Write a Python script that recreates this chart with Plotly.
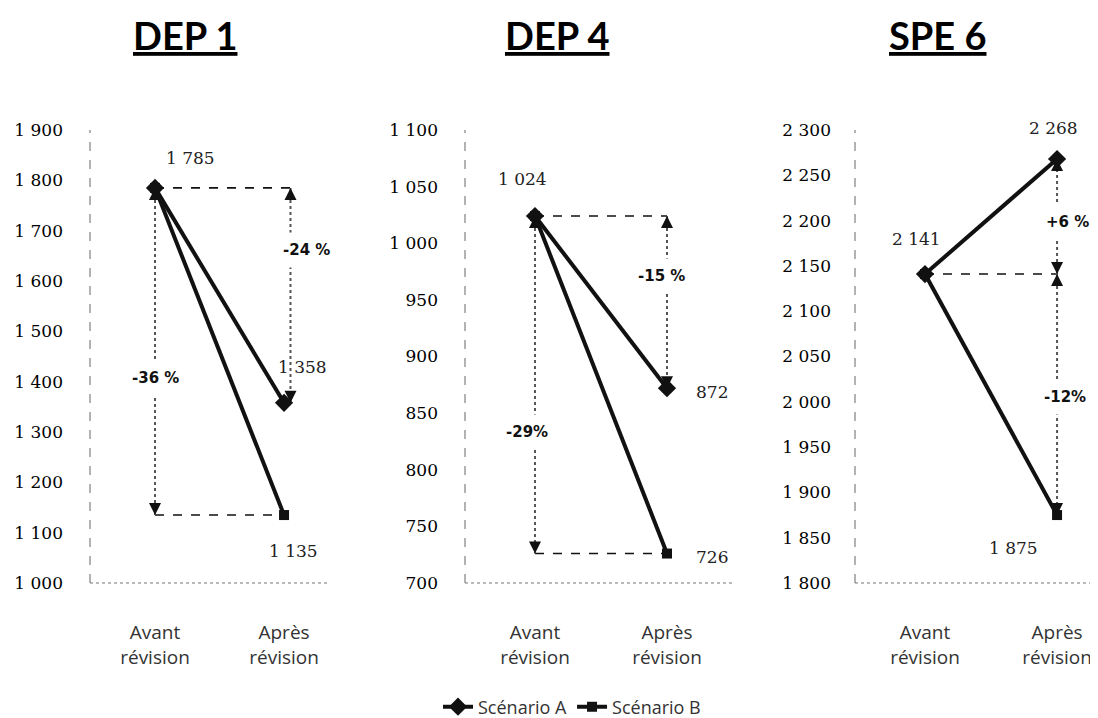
import plotly.graph_objects as go

# --- data -------------------------------------------------------------
panels = ["DEP 1", "DEP 4", "SPE 6"]
stages = ["Avant<br>révision", "Après<br>révision"]
scenario_a = [[1785, 1358], [1024, 872], [2141, 2268]]
scenario_b = [[1785, 1135], [1024, 726], [2141, 1875]]
change_a = ["-24 %", "-15 %", "+6 %"]
change_b = ["-36 %", "-29%", "-12%"]
y_min = [1000, 700, 1800]
y_max = [1900, 1100, 2300]
y_step = [100, 50, 50]

# --- layout (pixels, as seen in the page; the page body adds an 8px offset) ---
W, H = 1098, 718
OFF = 8
x_dom = [(90, 327), (465, 735), (855, 1098)]
x_rng = [(-0.504, 1.333), (-0.53, 1.515), (-0.53, 1.31)]
y_dom = (130, 583)
title_x = [185, 557, 938]
title_y = 35
legend_xy = (572, 707)
arrow_a_x = [1.05, 1.0, 1.0]
arrow_b_x = [0.0, 0.0, 1.0]
# value label offsets (xshift, yshift): start, end A, end B
lab_off = [
    [(35, 30), (18, 36), (9, -36)],
    [(-12, 37), (45, -4), (45, -3)],
    [(-8, 35), (-4, 31), (-44, -33)],
]
# percent labels: fraction along the arrow, xshift
pct_a_pos = [(0.29, 16), (0.35, -6), (0.45, 10)]
pct_b_pos = [(0.58, 0), (0.64, -8), (0.51, 8)]

SERIF = "DejaVu Serif"
SANS = "Open Sans"


def px_x(p):
    return (p - OFF) / W


def px_y(p):
    return 1 - (p - OFF) / H


def fmt(v):
    return f"{v:,}".replace(",", " ")


def heads(y0, y1):
    return ["arrow-up", "arrow-down"] if y0 > y1 else ["arrow-down", "arrow-up"]


fig = go.Figure()
annotations = []
shapes = []
layout_axes = {}

for i, name in enumerate(panels):
    sfx = "" if i == 0 else str(i + 1)
    xa, ya = "x" + sfx, "y" + sfx
    a, b = scenario_a[i], scenario_b[i]
    start = a[0]

    # helper dashed lines
    fig.add_trace(go.Scatter(
        x=[0, arrow_a_x[i]], y=[start, start], xaxis=xa, yaxis=ya, mode="lines",
        line=dict(color="#111", width=1.6, dash="dash"), showlegend=False, hoverinfo="skip"))
    if arrow_b_x[i] == 0:
        fig.add_trace(go.Scatter(
            x=[0, 1], y=[b[1], b[1]], xaxis=xa, yaxis=ya, mode="lines",
            line=dict(color="#111", width=1.6, dash="dash"), showlegend=False, hoverinfo="skip"))

    # change arrows
    for ax_x, ser in ((arrow_a_x[i], a), (arrow_b_x[i], b)):
        fig.add_trace(go.Scatter(
            x=[ax_x, ax_x], y=[ser[0], ser[1]], xaxis=xa, yaxis=ya, mode="lines+markers",
            line=dict(color="#555", width=2, dash="dot"),
            marker=dict(symbol=heads(ser[0], ser[1]), size=12, color="#111"),
            showlegend=False, hoverinfo="skip"))

    # data series
    fig.add_trace(go.Scatter(
        x=[0, 1], y=a, xaxis=xa, yaxis=ya, mode="lines+markers", name="Scénario A",
        line=dict(color="#111", width=4),
        marker=dict(symbol="diamond", size=14, color="#111"),
        showlegend=(i == 0), legendgroup="a"))
    fig.add_trace(go.Scatter(
        x=[0, 1], y=b, xaxis=xa, yaxis=ya, mode="lines+markers", name="Scénario B",
        line=dict(color="#111", width=4),
        marker=dict(symbol="square", size=10, color="#111"),
        showlegend=(i == 0), legendgroup="b"))

    # value labels
    for (xv, yv), (dx, dy) in zip(((0, start), (1, a[1]), (1, b[1])), lab_off[i]):
        annotations.append(dict(
            x=xv, y=yv, xref=xa, yref=ya, text=fmt(yv), showarrow=False,
            xanchor="center", yanchor="middle",
            xshift=dx, yshift=dy, font=dict(family=SERIF, size=17, color="#222")))

    # percent labels
    for ax_x, ser, txt, (frac, dx) in ((arrow_a_x[i], a, change_a[i], pct_a_pos[i]),
                                        (arrow_b_x[i], b, change_b[i], pct_b_pos[i])):
        annotations.append(dict(
            x=ax_x, y=ser[0] + frac * (ser[1] - ser[0]), xref=xa, yref=ya,
            text=f"<b>{txt}</b>", showarrow=False, xshift=dx,
            xanchor="center", yanchor="middle",
            bgcolor="white", borderpad=8,
            font=dict(family="DejaVu Sans", size=15, color="#111")))

    # panel title
    annotations.append(dict(
        x=px_x(title_x[i]), y=px_y(title_y), xref="paper", yref="paper",
        text=f"<b><u>{name}</u></b>", showarrow=False,
        xanchor="center", yanchor="middle",
        font=dict(family="Lato", size=38, color="#000")))

    # axis lines
    shapes.append(dict(type="line", xref=f"{xa} domain", yref=f"{ya} domain",
                       x0=0, x1=0, y0=0, y1=1, line=dict(color="#666", width=1, dash="dash")))
    shapes.append(dict(type="line", xref=f"{xa} domain", yref=f"{ya} domain",
                       x0=0, x1=1, y0=0, y1=0, line=dict(color="#777", width=1, dash="dot")))

    layout_axes["xaxis" + sfx] = dict(
        domain=[px_x(x_dom[i][0]), min(1.0, px_x(x_dom[i][1]))], range=list(x_rng[i]),
        anchor=ya, tickvals=[0, 1], ticktext=stages, showgrid=False, zeroline=False,
        showline=False, ticks="", ticklabelstandoff=36, automargin=False,
        tickfont=dict(family=SANS, size=19, color="#333"))
    layout_axes["yaxis" + sfx] = dict(
        domain=[px_y(y_dom[1]), px_y(y_dom[0])], range=[y_min[i], y_max[i]],
        anchor=xa, dtick=y_step[i], tick0=y_min[i], showgrid=False, zeroline=False,
        showline=False, ticks="", ticklabelstandoff=26 if i < 2 else 23,
        separatethousands=True, automargin=False,
        tickfont=dict(family=SERIF, size=17, color="#000"))

fig.update_layout(
    width=W, height=H, autosize=False,
    margin=dict(l=0, r=0, t=0, b=0, autoexpand=False),
    paper_bgcolor="white", plot_bgcolor="white",
    separators=", ",
    annotations=annotations, shapes=shapes,
    legend=dict(orientation="h", x=px_x(legend_xy[0]), xanchor="center",
                y=px_y(legend_xy[1]), yanchor="middle",
                font=dict(family=SANS, size=18, color="#333"), bgcolor="rgba(0,0,0,0)"),
    **layout_axes,
)

fig.write_html("out.html")
